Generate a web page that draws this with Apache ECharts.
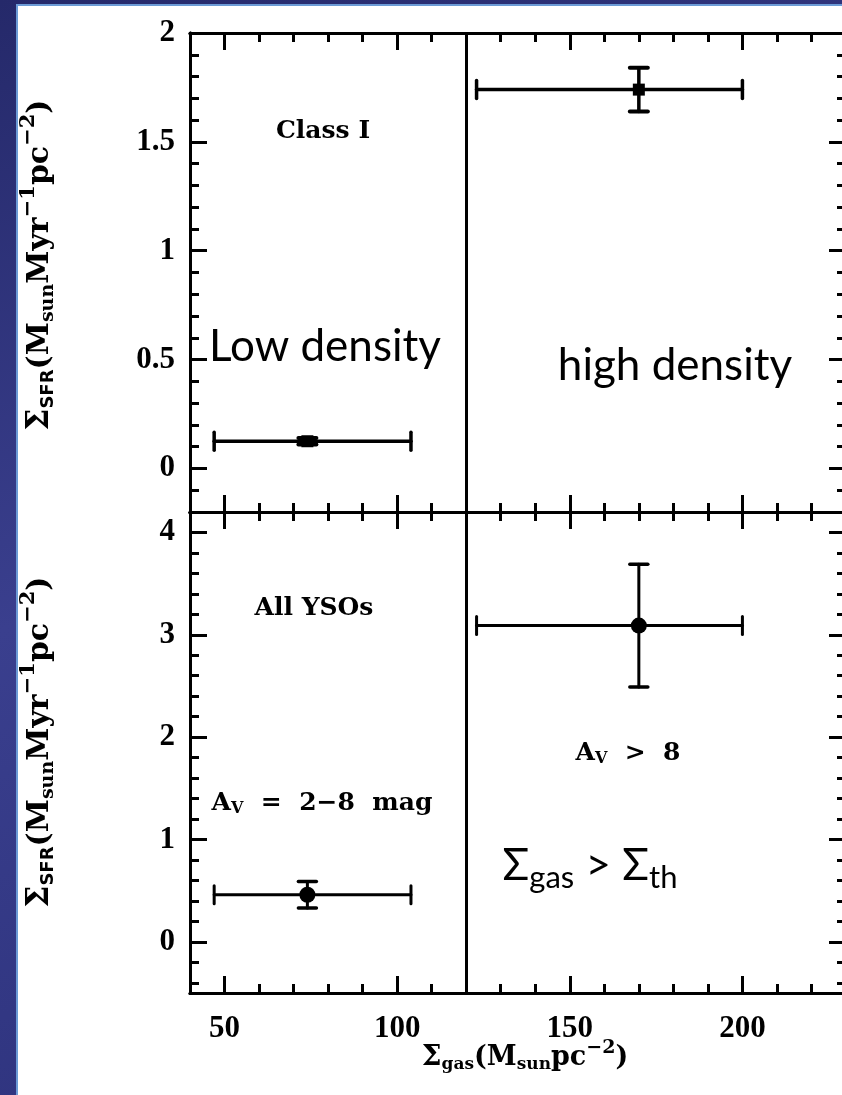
<!DOCTYPE html>
<html>
<head>
<meta charset="utf-8">
<script src="https://cdn.jsdelivr.net/npm/echarts@6/dist/echarts.min.js"></script>
<style>
  html, body { margin: 0; padding: 0; }
  body { width: 842px; height: 1095px; overflow: hidden; position: relative;
         background: linear-gradient(160deg, #25296a 0%, #3a3f8e 45%, #2a2f78 100%); }
  #sheet { position: absolute; left: 16px; top: 4px; width: 840px; height: 1100px;
           background: #fff; border-left: 2px solid #6c9bd6; border-top: 2px solid #6c9bd6; }
  #chart { position: absolute; left: 0; top: 0; width: 842px; height: 1095px; }
</style>
</head>
<body>
<div id="sheet"></div>
<div id="chart"></div>
<script>
// shared x axis (gas surface density)
const xRange = [40, 230];
const xMajorStep = 50;
const xMinorStep = 10;
const densityCut = 120;

// top panel: Class I
const classIYRange = [-0.2, 2];
const classIYMajor = 0.5;
const classIYMinor = 0.1;
const classIX = [74, 170];
const classIXLow = [47, 123];
const classIXHigh = [104, 200];
const classIY = [0.125, 1.74];
const classIYErr = [0.015, 0.1];

// bottom panel: all YSOs
const allYRange = [-0.5, 4.2];
const allYMajor = 1;
const allYMinor = 0.2;
const allX = [74, 170];
const allXLow = [47, 123];
const allXHigh = [104, 200];
const allY = [0.46, 3.09];
const allYErr = [0.13, 0.6];

const chart = echarts.init(document.getElementById('chart'), null, { renderer: 'canvas' });

const INK = '#000';
const numFont = 'Liberation Serif';
const wordFont = 'DejaVu Serif';
const slideFont = 'Lato, Carlito, "Open Sans", sans-serif';

function onStep(v, step) {
  const r = v / step;
  return Math.abs(r - Math.round(r)) < 1e-6;
}

// one frame side = two axes sharing the scale: long ticks + short ticks
function sideAxes(gridIndex, position, range, major, minor, showLabels) {
  const base = {
    type: 'value',
    gridIndex,
    position,
    min: range[0],
    max: range[1],
    splitNumber: 5,
    axisLine: { show: true, onZero: false, lineStyle: { color: INK, width: 3 } },
    splitLine: { show: false },
    silent: true
  };
  return [
    Object.assign({}, base, {
      minInterval: major,
      maxInterval: major,
      axisTick: { show: true, inside: true, length: 17, lineStyle: { color: INK, width: 3 } },
      axisLabel: {
        show: showLabels,
        color: INK,
        fontFamily: numFont,
        fontWeight: 'bold',
        fontSize: 31,
        margin: position === 'left' ? 15 : 20,
        showMinLabel: true,
        showMaxLabel: true,
        formatter: v => (onStep(v, major) ? String(+v.toFixed(2)) : '')
      }
    }),
    Object.assign({}, base, {
      minInterval: minor,
      maxInterval: minor,
      splitNumber: Math.round((range[1] - range[0]) / minor),
      axisTick: { show: true, inside: true, length: 9, lineStyle: { color: INK, width: 3 } },
      axisLabel: { show: false }
    })
  ];
}

const xAxes = [
  ...sideAxes(0, 'bottom', xRange, xMajorStep, xMinorStep, false),
  ...sideAxes(0, 'top', xRange, xMajorStep, xMinorStep, false),
  ...sideAxes(1, 'bottom', xRange, xMajorStep, xMinorStep, true),
  ...sideAxes(1, 'top', xRange, xMajorStep, xMinorStep, false)
];
const yAxes = [
  ...sideAxes(0, 'left', classIYRange, classIYMajor, classIYMinor, true),
  ...sideAxes(0, 'right', classIYRange, classIYMajor, classIYMinor, false),
  ...sideAxes(1, 'left', allYRange, allYMajor, allYMinor, true),
  ...sideAxes(1, 'right', allYRange, allYMajor, allYMinor, false)
];

function rows(xs, ys, lo, hi, ye) {
  return xs.map((x, i) => [x, ys[i], lo[i], hi[i], ye[i]]);
}

function errorBars(lineW) {
  return function (params, api) {
    const x = api.value(0), y = api.value(1);
    const lo = api.coord([api.value(2), y]);
    const hi = api.coord([api.value(3), y]);
    const top = api.coord([x, y + api.value(4)]);
    const bot = api.coord([x, y - api.value(4)]);
    const style = { stroke: INK, lineWidth: lineW, fill: null, lineCap: 'round' };
    const capStyle = Object.assign({}, style, { lineWidth: lineW + 0.5 });
    const capW = 9;
    return {
      type: 'group',
      children: [
        { type: 'line', shape: { x1: lo[0], y1: lo[1], x2: hi[0], y2: hi[1] }, style },
        { type: 'line', shape: { x1: lo[0], y1: lo[1] - 9, x2: lo[0], y2: lo[1] + 9 }, style },
        { type: 'line', shape: { x1: hi[0], y1: hi[1] - 9, x2: hi[0], y2: hi[1] + 9 }, style },
        { type: 'line', shape: { x1: top[0], y1: top[1], x2: bot[0], y2: bot[1] }, style },
        { type: 'line', shape: { x1: top[0] - capW, y1: top[1], x2: top[0] + capW, y2: top[1] }, style: capStyle },
        { type: 'line', shape: { x1: bot[0] - capW, y1: bot[1], x2: bot[0] + capW, y2: bot[1] }, style: capStyle }
      ]
    };
  };
}

const cutLine = {
  silent: true,
  symbol: ['none', 'none'],
  label: { show: false },
  lineStyle: { color: INK, width: 3, type: 'solid', opacity: 1 },
  data: [{ xAxis: densityCut }]
};

const series = [
  {
    type: 'custom', xAxisIndex: 0, yAxisIndex: 0,
    renderItem: errorBars(3.5),
    encode: { x: 0, y: 1 },
    data: rows(classIX, classIY, classIXLow, classIXHigh, classIYErr),
    z: 3
  },
  {
    type: 'scatter', xAxisIndex: 0, yAxisIndex: 0,
    symbol: 'rect', symbolSize: 12,
    itemStyle: { color: INK, opacity: 1 },
    data: classIX.map((x, i) => [x, classIY[i]]),
    markLine: cutLine,
    z: 4
  },
  {
    type: 'custom', xAxisIndex: 4, yAxisIndex: 4,
    renderItem: errorBars(3),
    encode: { x: 0, y: 1 },
    data: rows(allX, allY, allXLow, allXHigh, allYErr),
    z: 3
  },
  {
    type: 'scatter', xAxisIndex: 4, yAxisIndex: 4,
    symbol: 'circle', symbolSize: 16,
    itemStyle: { color: INK, opacity: 1 },
    data: allX.map((x, i) => [x, allY[i]]),
    markLine: cutLine,
    z: 4
  }
];

// axis titles built with rich text for sub/superscripts
const titleRich = {
  s: { fontFamily: wordFont, fontWeight: 'bold', fontSize: 31, fill: INK, lineHeight: 40 },
  p: { fontFamily: wordFont, fontWeight: 'bold', fontSize: 30, fill: INK, lineHeight: 40 },
  sub: { fontFamily: wordFont, fontWeight: 'bold', fontSize: 19, fill: INK, padding: [16, 0, 0, 0] },
  ssf: { fontFamily: 'DejaVu Sans', fontWeight: 'bold', fontSize: 18, fill: INK, padding: [16, 0, 0, 0] },
  sup: { fontFamily: wordFont, fontWeight: 'bold', fontSize: 21, fill: INK, padding: [0, 0, 22, 0] }
};
const xRich = {
  s: { fontFamily: wordFont, fontWeight: 'bold', fontSize: 28, fill: INK, lineHeight: 36 },
  p: { fontFamily: wordFont, fontWeight: 'bold', fontSize: 27, fill: INK, lineHeight: 36 },
  sub: { fontFamily: wordFont, fontWeight: 'bold', fontSize: 17, fill: INK, padding: [14, 0, 0, 0] },
  sup: { fontFamily: wordFont, fontWeight: 'bold', fontSize: 19, fill: INK, padding: [0, 0, 20, 0] }
};
const yTitle = '{s|Σ}{ssf|SFR}{p|(M}{sub|sun}{p|Myr}{sup|−1}{p|pc}{sup|−2}{p|)}';
const xTitle = '{s|Σ}{sub|gas}{p|(M}{sub|sun}{p|pc}{sup|−2}{p|)}';

const plainText = (text, x, y, size, family, weight, rich) => ({
  type: 'text', x, y, z: 10, silent: true,
  style: {
    text, fill: INK, fontFamily: family, fontWeight: weight, fontSize: size,
    align: 'center', verticalAlign: 'middle', rich
  }
});

const noteRich = {
  p: { fontFamily: wordFont, fontWeight: 'bold', fontSize: 25, fill: INK },
  sub: { fontFamily: wordFont, fontWeight: 'bold', fontSize: 16, fill: INK, padding: [12, 0, 0, 0] }
};
const slideRich = {
  a: { fontFamily: slideFont, fontSize: 44, fill: INK },
  b: { fontFamily: slideFont, fontSize: 31, fill: INK, padding: [24, 0, 0, 0] }
};

const graphic = [
  plainText('Class I', 323, 131, 25, wordFont, 'bold'),
  plainText('All YSOs', 314, 608, 25, wordFont, 'bold'),
  plainText('{p|A}{sub|V}{p|  =  2−8  mag}', 322, 803, 25, wordFont, 'bold', noteRich),
  plainText('{p|A}{sub|V}{p|  >  8}', 628, 753, 25, wordFont, 'bold', noteRich),
  plainText('Low density', 325, 347, 44, slideFont, 'normal'),
  plainText('high density', 675, 366, 44, slideFont, 'normal'),
  plainText('{a|Σ}{b|gas}{a| > Σ}{b|th}', 590, 866, 44, slideFont, 'normal', slideRich),
  Object.assign(plainText(yTitle, 40, 265, 30, wordFont, 'bold', titleRich), { rotation: Math.PI / 2 }),
  Object.assign(plainText(yTitle, 40, 742, 30, wordFont, 'bold', titleRich), { rotation: Math.PI / 2 }),
  plainText(xTitle, 525, 1058, 27, wordFont, 'bold', xRich)
];

chart.setOption({
  backgroundColor: 'transparent',
  animation: false,
  grid: [
    { left: 190, top: 33, width: 656, height: 479, outerBoundsMode: 'none' },
    { left: 190, top: 512, width: 656, height: 481, outerBoundsMode: 'none' }
  ],
  xAxis: xAxes,
  yAxis: yAxes,
  series,
  graphic
});
</script>
</body>
</html>
